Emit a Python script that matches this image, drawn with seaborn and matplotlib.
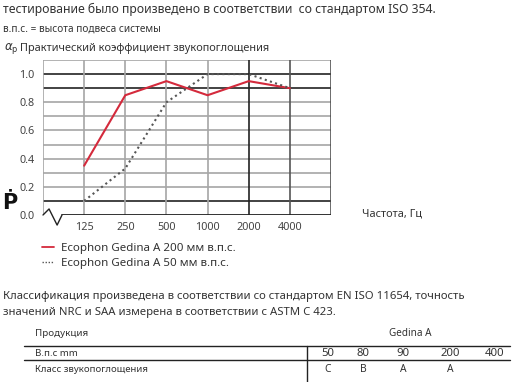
import matplotlib
matplotlib.use("Agg")
import matplotlib.pyplot as plt
from matplotlib.lines import Line2D
import seaborn as sns
import pandas as pd
import numpy as np

# data
freqs = ["125", "250", "500", "1000", "2000", "4000"]
gedina_200 = [0.35, 0.85, 0.95, 0.85, 0.95, 0.90]
gedina_50 = [0.10, 0.33, 0.80, 1.00, 1.00, 0.90]
series_names = ["Ecophon Gedina A 200 мм в.п.с.", "Ecophon Gedina A 50 мм в.п.с."]
y_ticks = [0.0, 0.2, 0.4, 0.6, 0.8, 1.0]

table_heights = ["50", "80", "90", "200", "400"]
table_classes = ["C", "B", "A", "A", ""]

sns.set_theme(style="white")
plt.rcParams["font.family"] = ["Noto Sans", "DejaVu Sans"]

W, H = 526, 382
fig = plt.figure(figsize=(W / 100, H / 100), dpi=100)
TXT = "#333333"
RED = "#d42a3c"


def fx(px):
    return px / W


def fy(py):
    return 1 - py / H


# header text
fig.text(fx(3), fy(9), "тестирование было произведено в соответствии  со стандартом ISO 354.",
         fontsize=8.8, color=TXT, va="center")
fig.text(fx(3), fy(29), "в.п.с. = высота подвеса системы", fontsize=7.2, color=TXT, va="center")
fig.text(fx(4), fy(49), r"$\alpha_{\rm p}$", fontsize=8.5, color=TXT, va="center")
fig.text(fx(20), fy(48), "Практический коэффициент звукопоглощения", fontsize=7.9, color=TXT, va="center")

# chart
ax = fig.add_axes([fx(43), fy(215), fx(331) - fx(43), fy(60) - fy(215)])
df = pd.DataFrame({
    "freq": freqs * 2,
    "alpha": gedina_200 + gedina_50,
    "series": [series_names[0]] * len(freqs) + [series_names[1]] * len(freqs),
})
sns.lineplot(data=df, x="freq", y="alpha", hue="series", style="series",
             palette=[RED, "#555555"], dashes=[(None, None), (1, 1.6)],
             linewidth=1.5, ax=ax, legend=False, sort=False)
ax.set_xlim(-1, len(freqs))
ax.set_ylim(0, 1.1)
for s in ax.spines.values():
    s.set_visible(False)

# grid
for v in np.arange(0.1, 1.11, 0.1):
    dark = round(v, 1) in (0.1, 0.9, 1.0)
    ax.axhline(v, color="#222222" if dark else "#a6a6a6", lw=1.2, zorder=0)
for i in range(len(freqs)):
    c = "#222222" if i == 4 else ("#555555" if i == 5 else "#a6a6a6")
    ax.axvline(i, color=c, lw=1.2, zorder=0)
ax.axvline(-1, color="#a6a6a6", lw=1.2, zorder=0)
ax.axvline(len(freqs), color="#444444", lw=1.1, zorder=0)
ax.axhline(0, xmin=0.066, color="#222222", lw=1.3, zorder=0)
ax.plot([0, 0.021, 0.049, 0.066], [0, 0.039, -0.065, 0], transform=ax.transAxes,
        color="#222222", lw=1.0, clip_on=False)

ax.set_yticks(y_ticks)
ax.set_yticklabels([f"{t:.1f}" for t in y_ticks])
ax.set_xticks(range(len(freqs)))
ax.set_xticklabels(freqs)
ax.tick_params(axis="y", length=0, pad=6, labelsize=7.8, labelcolor="#444444")
ax.tick_params(axis="x", length=0, pad=5, labelsize=7.8, labelcolor="#444444")
ax.set_xlabel("")
ax.set_ylabel("")

fig.text(fx(362), fy(214), "Частота, Гц", fontsize=7.9, color=TXT, va="center")
fig.text(fx(2), fy(203), "Ṗ", fontsize=15, fontweight="bold", color="#111111", va="center",
         family="DejaVu Sans")

# legend
handles = [Line2D([], [], color=RED, lw=1.3),
           Line2D([], [], color="#555555", lw=1.0, ls=(0, (1, 1.2)))]
fig.legend(handles, series_names, loc="upper left", bbox_to_anchor=(fx(37), fy(238)),
           frameon=False, fontsize=8.3, handlelength=1.1, handletextpad=0.6,
           labelspacing=0.4, labelcolor=TXT, borderaxespad=0)

# classification text
fig.text(fx(3), fy(296), "Классификация произведена в соответствии со стандартом EN ISO 11654, точность",
         fontsize=8.15, color=TXT, va="center")
fig.text(fx(3), fy(312), "значений NRC и SAA измерена в соответствии с ASTM C 423.",
         fontsize=8.15, color=TXT, va="center")

# table
fig.text(fx(35), fy(334), "Продукция", fontsize=7.0, color=TXT, va="center")
fig.text(fx(410), fy(334), "Gedina A", fontsize=7.2, color=TXT, va="center", ha="center")
fig.text(fx(35), fy(353), "B.п.c mm", fontsize=7.0, color=TXT, va="center")
fig.text(fx(35), fy(369), "Класс звукопоглощения", fontsize=6.9, color=TXT, va="center")
col_x = [328, 363, 403, 450, 495]
for x, h, c in zip(col_x, table_heights, table_classes):
    fig.text(fx(x), fy(353), h, fontsize=8.2, color=TXT, va="center", ha="center")
    fig.text(fx(x), fy(369), c, fontsize=7.4, color=TXT, va="center", ha="center")
fig.add_artist(Line2D([fx(24), fx(510)], [fy(346), fy(346)], color="#222222", lw=1.0))
fig.add_artist(Line2D([fx(24), fx(510)], [fy(360), fy(360)], color="#222222", lw=1.0))
fig.add_artist(Line2D([fx(307), fx(307)], [fy(346), fy(382)], color="#222222", lw=1.0))

fig.savefig("out.png", dpi=100, facecolor="white")
